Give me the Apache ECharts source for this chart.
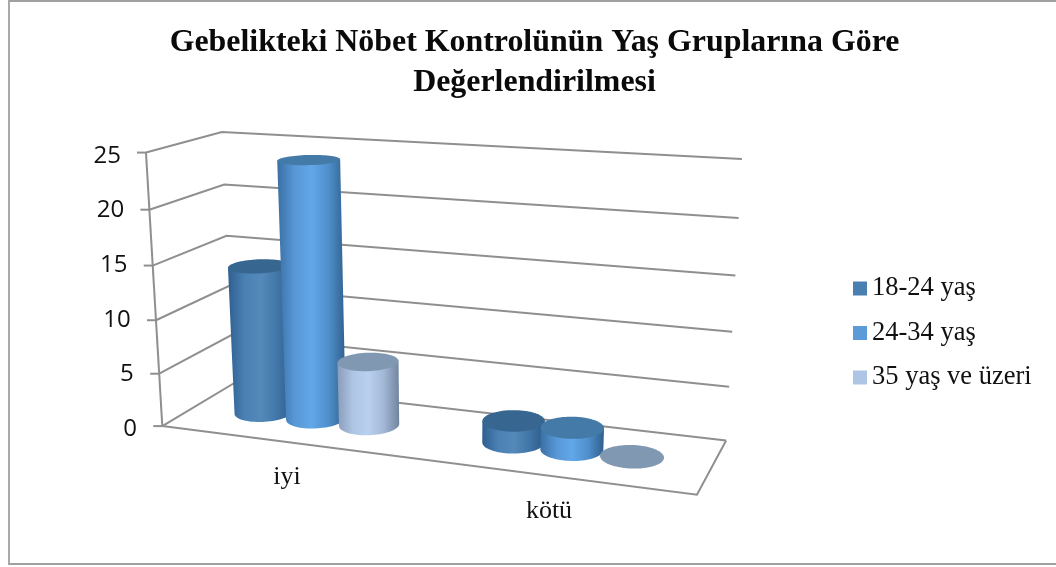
<!DOCTYPE html>
<html><head><meta charset="utf-8">
<style>html,body{margin:0;padding:0;background:#fff}#c{width:1056px;height:567px}</style>
<script src="https://cdn.jsdelivr.net/npm/echarts@6/dist/echarts.min.js"></script>
</head><body><div id="c"></div>
<script>
const categories = ['iyi', 'kötü'];
const seriesNames = ['18-24 yaş', '24-34 yaş', '35 yaş ve üzeri'];
const values1 = [14, 2];
const values2 = [24, 2];
const values3 = [6, 0];
const yTicks = [0, 5, 10, 15, 20, 25];

const GRID = {left: 161, top: 153, width: 536, height: 273};
const YMAX = 25;
// Perspective calibration: (u across, v up, w depth) -> screen
const calib = [
  [0,0,0,161,426],[1,0,0,697,495],[1,0,1,726,440],[0,0,1,234,384],
  [0,1,0,146,153],[0,1,1,221,132],[1,1,1,742,159],
  [0,.6,0,154,265],[1,.6,1,735.5,275.5],[1,.2,1,729,387]
];
function solve(A, b) {
  const n = b.length, M = A.map((r, i) => r.concat(b[i]));
  for (let i = 0; i < n; i++) {
    let p = i;
    for (let k = i + 1; k < n; k++) if (Math.abs(M[k][i]) > Math.abs(M[p][i])) p = k;
    [M[i], M[p]] = [M[p], M[i]];
    for (let k = 0; k < n; k++) if (k !== i) {
      const f = M[k][i] / M[i][i];
      for (let j = i; j <= n; j++) M[k][j] -= f * M[i][j];
    }
  }
  return M.map((r, i) => r[n] / r[i]);
}
const P = (function () {
  const rows = [], rhs = [];
  calib.forEach(([u, v, w, x, y]) => {
    rows.push([u, v, w, 1, 0, 0, 0, 0, -x*u, -x*v, -x*w]); rhs.push(x);
    rows.push([0, 0, 0, 0, u, v, w, 1, -y*u, -y*v, -y*w]); rhs.push(y);
  });
  const N = 11, AtA = [], Atb = [];
  for (let i = 0; i < N; i++) {
    AtA.push([]); let s = 0;
    rows.forEach((r, k) => { s += r[i] * rhs[k]; });
    Atb.push(s);
    for (let j = 0; j < N; j++) {
      let t = 0; rows.forEach(r => { t += r[i] * r[j]; });
      AtA[i].push(t);
    }
  }
  return solve(AtA, Atb);
})();
function project(u, v, w) {
  const d = P[8]*u + P[9]*v + P[10]*w + 1;
  return [(P[0]*u + P[1]*v + P[2]*w + P[3]) / d, (P[4]*u + P[5]*v + P[6]*w + P[7]) / d];
}
const toU = px => (px - GRID.left) / GRID.width;
const toV = py => (GRID.top + GRID.height - py) / GRID.height;

const RU = 0.0555, RW = 0.215, OFFSET = 0.109;
const styles = [
  {stops: ['#2f5f90', '#4a80b3', '#5489ba', '#4176a8', '#2d5a86'], top: '#376791'},
  {stops: ['#3a6fa3', '#5797d6', '#62a7e8', '#4f8fcb', '#2f5f8c'], top: '#437aa8'},
  {stops: ['#8a9cba', '#aec5e4', '#b9d0ef', '#a3b8d6', '#71849f'], top: '#8198b3'}
];
function circle(cu, v, cw) {
  const pts = [];
  for (let i = 0; i < 72; i++) {
    const t = i / 72 * Math.PI * 2;
    pts.push(project(cu + RU * Math.cos(t), v, cw + RW * Math.sin(t)));
  }
  return pts;
}
function cylinder(idx) {
  return function (params, api) {
    const cat = api.value(0), val = api.value(1);
    const base = api.coord([cat, 0]), top = api.coord([cat, val]);
    const cu = toU(base[0]) + (idx - 1) * OFFSET;
    const v0 = toV(base[1]), v1 = toV(top[1]);
    const bot = circle(cu, v0, 0.5), upp = circle(cu, v1, 0.5);
    const st = styles[idx];
    const children = [];
    if (val > 0) {
      let l = 0, r = 0;
      bot.forEach((p, i) => { if (p[0] < bot[l][0]) l = i; if (p[0] > bot[r][0]) r = i; });
      const arc = [];
      let i = r, guard = 0;
      const dir = bot[(r + 1) % 72][1] > bot[(r + 71) % 72][1] ? 1 : 71;
      while (i !== l && guard++ < 80) { arc.push(bot[i]); i = (i + dir) % 72; }
      arc.push(bot[l]);
      const poly = [upp[l], upp[r]].concat(arc);
      children.push({
        type: 'polygon', shape: {points: poly},
        style: {fill: new echarts.graphic.LinearGradient(0, 0, 1, 0,
          st.stops.map((c, k) => ({offset: k / 4, color: c})))}
      });
    }
    children.push({type: 'polygon', shape: {points: upp}, style: {fill: st.top}});
    return {type: 'group', children};
  };
}
function frameItem(params, api) {
  const val = api.value(0);
  const py = api.coord([0, val])[1];
  const v = toV(py);
  const FL = project(0, v, 0), BL = project(0, v, 1), BR = project(1, v, 1);
  const line = {stroke: '#8f8f8f', lineWidth: 2, fill: null};
  const kids = [
    {type: 'polyline', shape: {points: [FL, BL, BR]}, style: line},
    {type: 'line', shape: {x1: FL[0] - 9, y1: FL[1], x2: FL[0], y2: FL[1]}, style: line}
  ];
  if (val === 0) {
    const FR = project(1, 0, 0), BR0 = project(1, 0, 1), top = project(0, 1, 0);
    kids.push({type: 'polyline', shape: {points: [BR0, FR, FL]}, style: line});
    kids.push({type: 'line', shape: {x1: FL[0], y1: FL[1], x2: top[0], y2: top[1]}, style: line});
  }
  return {type: 'group', children: kids};
}

const yRich = {};
yTicks.forEach(t => { yRich['t' + t] = {padding: [6, 16 * t / YMAX, 0, 0], fontFamily: 'Open Sans', fontSize: 24, color: '#111'}; });
const xRich = {
  c0: {padding: [0, 16, 0, 0], fontFamily: 'Liberation Serif', fontSize: 26, color: '#111'},
  c1: {padding: [34, 28, 0, 0], fontFamily: 'Liberation Serif', fontSize: 26, color: '#111'}
};

const allValues = [values1, values2, values3];
const chart = echarts.init(document.getElementById('c'), null, {renderer: 'canvas'});
chart.setOption({
  backgroundColor: '#fff',
  animation: false,
  title: {
    text: 'Gebelikteki Nöbet Kontrolünün Yaş Gruplarına Göre\nDeğerlendirilmesi',
    left: 534.5, top: 23, textAlign: 'center', padding: 0,
    textStyle: {fontFamily: 'Liberation Serif', fontWeight: 'bold', fontSize: 31.9, lineHeight: 40, color: '#0a0a0a'}
  },
  legend: {
    data: seriesNames, orient: 'vertical', left: 853, top: 274, icon: 'rect', padding: 0,
    itemWidth: 14, itemHeight: 14, itemGap: 15.5, itemTextGap: 6,
    textStyle: {fontFamily: 'Liberation Serif', fontSize: 26.5, lineHeight: 26, padding: [3, 0, 0, 0], color: '#111'}
  },
  grid: GRID,
  xAxis: {
    type: 'category', data: categories,
    axisLine: {show: false}, axisTick: {show: false}, splitLine: {show: false},
    axisLabel: {interval: 0, margin: 38, formatter: (v, i) => `{c${i}|${v}}`, rich: xRich}
  },
  yAxis: {
    type: 'value', min: 0, max: YMAX, interval: 5,
    axisLine: {show: false}, axisTick: {show: false}, splitLine: {show: false},
    axisLabel: {margin: 24, formatter: v => `{t${v}|${v}}`, rich: yRich}
  },
  graphic: [{
    type: 'polyline', silent: true, z: -1,
    shape: {points: [[1056, 1], [9, 1], [9, 564], [1056, 564]]},
    style: {fill: 'none', stroke: '#a0a0a0', lineWidth: 1.8}
  }],
  series: [
    {type: 'custom', name: 'frame', coordinateSystem: 'cartesian2d', clip: false, silent: true,
     renderItem: frameItem, encode: {y: 0}, data: yTicks.map(t => [t]), z: 1},
    ...seriesNames.map((name, s) => ({
      type: 'custom', name, coordinateSystem: 'cartesian2d', clip: false, z: 2 + s,
      itemStyle: {color: ['#4a7fb2', '#5b9bd8', '#aec5e6'][s]},
      encode: {x: 0, y: 1},
      renderItem: cylinder(s),
      data: categories.map((c, i) => [i, allValues[s][i]])
    }))
  ]
});
</script></body></html>
